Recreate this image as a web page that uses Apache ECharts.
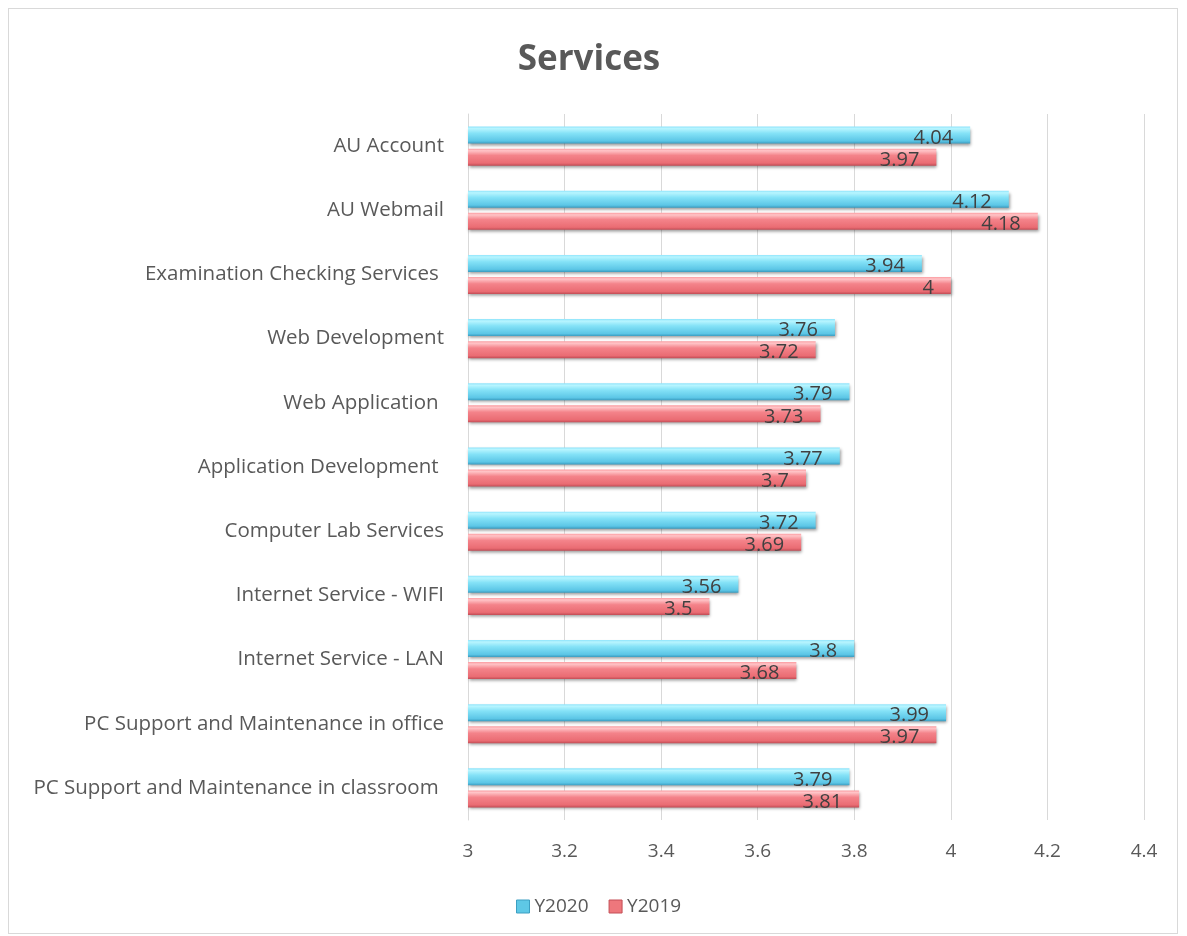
<!DOCTYPE html>
<html lang="en" style="height: 100%">
<head>
<meta charset="utf-8">
<title>Services</title>
</head>
<body style="height: 100%; margin: 0; background: #fff">
<div id="container" style="position: absolute; left: 8px; top: 8px; width: 1170px; height: 926px; border: 1px solid #d9d9d9; box-sizing: border-box"></div>

<script type="text/javascript" src="https://cdn.jsdelivr.net/npm/echarts/dist/echarts.min.js"></script>

<script type="text/javascript">

var categories = [
  'AU Account',
  'AU Webmail',
  'Examination Checking Services ',
  'Web Development',
  'Web Application ',
  'Application Development ',
  'Computer Lab Services',
  'Internet Service - WIFI',
  'Internet Service - LAN',
  'PC Support and Maintenance in office',
  'PC Support and Maintenance in classroom '
];
var y2020 = [4.04, 4.12, 3.94, 3.76, 3.79, 3.77, 3.72, 3.56, 3.8, 3.99, 3.79];
var y2019 = [3.97, 4.18, 4, 3.72, 3.73, 3.7, 3.69, 3.5, 3.68, 3.97, 3.81];

var dom = document.getElementById('container');
var myChart = echarts.init(dom);

var font = 'Open Sans';

// glossy look of the original bars
function grad(stops) {
  return new echarts.graphic.LinearGradient(0, 0, 0, 1, stops.map(function (c, i) {
    return {offset: [0, 0.12, 0.4, 0.85, 1][i], color: c};
  }));
}

var cyan = grad(['#8fe4fb', '#b8f5ff', '#84e2f7', '#5cc6e6', '#3a9cc0']);
var red = grad(['#fb9ca1', '#ffc4c7', '#f4838a', '#ea6c73', '#c24c55']);

function barSeries(name, data, color) {
  return {
    name: name,
    type: 'bar',
    data: data,
    barWidth: 17,
    barGap: '30%',
    itemStyle: {
      color: color,
      shadowColor: 'rgba(0,0,0,0.4)',
      shadowBlur: 3,
      shadowOffsetX: 1,
      shadowOffsetY: 2
    },
    label: {
      show: true,
      position: 'insideRight',
      distance: 17,
      offset: [0, 3],
      color: '#404040',
      fontFamily: font,
      fontSize: 20
    }
  };
}

var option = {
  textStyle: {fontFamily: font},
  title: {
    text: 'Services',
    left: 575,
    top: 29,
    textAlign: 'center',
    textStyle: {fontSize: 35, fontWeight: 'bold', color: '#595959', fontFamily: font}
  },
  legend: {
    bottom: 12,
    left: 502,
    itemWidth: 13,
    itemHeight: 13,
    itemGap: 20,
    icon: 'rect',
    textStyle: {fontSize: 19, color: '#595959', fontFamily: font},
    data: [
      {name: 'Y2020', itemStyle: {color: '#5ec8e6', borderColor: '#3c9fc2', borderWidth: 1}},
      {name: 'Y2019', itemStyle: {color: '#ee777c', borderColor: '#c44e56', borderWidth: 1}}
    ]
  },
  grid: {
    left: 459,
    right: 33,
    top: 105,
    bottom: 113,
    containLabel: false
  },
  xAxis: {
    type: 'value',
    min: 3,
    max: 4.4,
    interval: 0.2,
    axisLine: {show: false},
    axisTick: {show: false},
    splitLine: {lineStyle: {color: '#d9d9d9'}},
    axisLabel: {color: '#595959', fontSize: 19, margin: 22, fontFamily: font}
  },
  yAxis: {
    type: 'category',
    data: categories,
    inverse: true,
    axisLine: {lineStyle: {color: '#d9d9d9'}},
    axisTick: {show: false},
    axisLabel: {color: '#595959', fontSize: 20.5, margin: 24, fontFamily: font}
  },
  series: [
    barSeries('Y2020', y2020, cyan),
    barSeries('Y2019', y2019, red)
  ]
};

myChart.setOption(option);
window.addEventListener('resize', myChart.resize);
</script>
</body>
</html>
